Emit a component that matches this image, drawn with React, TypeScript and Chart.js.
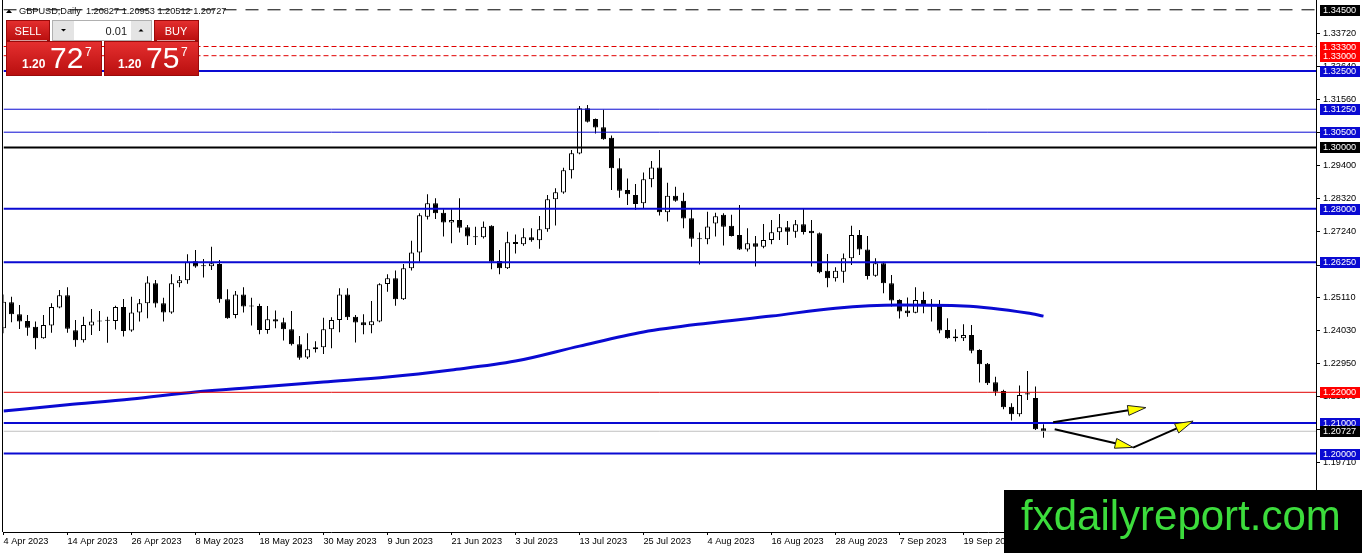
import React, { useEffect, useRef } from "react";
import { Chart, registerables } from "chart.js";

Chart.register(...registerables);

// ---------------- data ----------------
const dates = [
  "4 Apr 2023","5 Apr 2023","6 Apr 2023","7 Apr 2023","10 Apr 2023","11 Apr 2023","12 Apr 2023","13 Apr 2023","14 Apr 2023","17 Apr 2023",
  "18 Apr 2023","19 Apr 2023","20 Apr 2023","21 Apr 2023","24 Apr 2023","25 Apr 2023","26 Apr 2023","27 Apr 2023","28 Apr 2023","1 May 2023",
  "2 May 2023","3 May 2023","4 May 2023","5 May 2023","8 May 2023","9 May 2023","10 May 2023","11 May 2023","12 May 2023","15 May 2023",
  "16 May 2023","17 May 2023","18 May 2023","19 May 2023","22 May 2023","23 May 2023","24 May 2023","25 May 2023","26 May 2023","29 May 2023",
  "30 May 2023","31 May 2023","1 Jun 2023","2 Jun 2023","5 Jun 2023","6 Jun 2023","7 Jun 2023","8 Jun 2023","9 Jun 2023","12 Jun 2023",
  "13 Jun 2023","14 Jun 2023","15 Jun 2023","16 Jun 2023","19 Jun 2023","20 Jun 2023","21 Jun 2023","22 Jun 2023","23 Jun 2023","26 Jun 2023",
  "27 Jun 2023","28 Jun 2023","29 Jun 2023","30 Jun 2023","3 Jul 2023","4 Jul 2023","5 Jul 2023","6 Jul 2023","7 Jul 2023","10 Jul 2023",
  "11 Jul 2023","12 Jul 2023","13 Jul 2023","14 Jul 2023","17 Jul 2023","18 Jul 2023","19 Jul 2023","20 Jul 2023","21 Jul 2023","24 Jul 2023",
  "25 Jul 2023","26 Jul 2023","27 Jul 2023","28 Jul 2023","31 Jul 2023","1 Aug 2023","2 Aug 2023","3 Aug 2023","4 Aug 2023","7 Aug 2023",
  "8 Aug 2023","9 Aug 2023","10 Aug 2023","11 Aug 2023","14 Aug 2023","15 Aug 2023","16 Aug 2023","17 Aug 2023","18 Aug 2023","21 Aug 2023",
  "22 Aug 2023","23 Aug 2023","24 Aug 2023","25 Aug 2023","28 Aug 2023","29 Aug 2023","30 Aug 2023","31 Aug 2023","1 Sep 2023","4 Sep 2023",
  "5 Sep 2023","6 Sep 2023","7 Sep 2023","8 Sep 2023","11 Sep 2023","12 Sep 2023","13 Sep 2023","14 Sep 2023","15 Sep 2023","18 Sep 2023",
  "19 Sep 2023","20 Sep 2023","21 Sep 2023","22 Sep 2023","25 Sep 2023","26 Sep 2023","27 Sep 2023","28 Sep 2023","29 Sep 2023","2 Oct 2023",
  "3 Oct 2023",
];

const opens = [
  1.2409,1.2494,1.2455,1.2433,1.2414,1.2377,1.2418,1.2477,1.2517,1.2403,
  1.2370,1.2418,1.2435,1.2435,1.2433,1.2479,1.2402,1.2461,1.2491,1.2556,
  1.2491,1.2461,1.2556,1.2566,1.2628,1.2615,1.2612,1.2619,1.2504,1.2453,
  1.2520,1.2482,1.2482,1.2404,1.2439,1.2429,1.2406,1.2357,1.2314,1.2341,
  1.2347,1.2406,1.2436,1.2520,1.2447,1.2429,1.2419,1.2431,1.2554,1.2573,
  1.2504,1.2605,1.2657,1.2774,1.2818,1.2787,1.2755,1.2763,1.2739,1.2707,
  1.2707,1.2744,1.2629,1.2605,1.2691,1.2684,1.2707,1.2697,1.2733,1.2831,
  1.2853,1.2926,1.2980,1.3128,1.3093,1.3066,1.3032,1.2932,1.2861,1.2845,
  1.2818,1.2896,1.2935,1.2788,1.2842,1.2826,1.2769,1.2703,1.2700,1.2752,
  1.2780,1.2744,1.2714,1.2667,1.2687,1.2676,1.2698,1.2723,1.2739,1.2725,
  1.2749,1.2728,1.2720,1.2597,1.2573,1.2594,1.2638,1.2714,1.2667,1.2581,
  1.2622,1.2556,1.2502,1.2467,1.2460,1.2502,1.2485,1.2482,1.2404,1.2382,
  1.2377,1.2387,1.2338,1.2293,1.2233,1.2204,1.2153,1.2128,1.2193,1.2181,
  1.20827,
];

const highs = [
  1.2520,1.2512,1.2485,1.2453,1.2431,1.2453,1.2491,1.2534,1.2543,1.2436,
  1.2447,1.2472,1.2466,1.2447,1.2483,1.2505,1.2512,1.2505,1.2579,1.2567,
  1.2509,1.2586,1.2580,1.2651,1.2665,1.2636,1.2676,1.2632,1.2537,1.2531,
  1.2543,1.2509,1.2489,1.2482,1.2467,1.2444,1.2466,1.2384,1.2393,1.2367,
  1.2444,1.2445,1.2540,1.2540,1.2453,1.2455,1.2498,1.2556,1.2586,1.2598,
  1.2619,1.2695,1.2785,1.2847,1.2834,1.2798,1.2798,1.2834,1.2747,1.2741,
  1.2758,1.2746,1.2665,1.2725,1.2716,1.2736,1.2736,1.2776,1.2845,1.2867,
  1.2934,1.2992,1.3136,1.3139,1.3095,1.3123,1.3039,1.2965,1.2899,1.2881,
  1.2918,1.2956,1.2992,1.2885,1.2872,1.2852,1.2801,1.2722,1.2790,1.2787,
  1.2785,1.2780,1.2812,1.2736,1.2711,1.2750,1.2763,1.2783,1.2760,1.2763,
  1.2800,1.2763,1.2722,1.2652,1.2609,1.2654,1.2744,1.2730,1.2711,1.2638,
  1.2627,1.2583,1.2504,1.2510,1.2543,1.2529,1.2505,1.2502,1.2442,1.2406,
  1.2422,1.2420,1.2341,1.2296,1.2251,1.2208,1.2164,1.2222,1.2270,1.2219,
  1.20953,
];

const lows = [
  1.2393,1.2429,1.2407,1.2385,1.2341,1.2375,1.2395,1.2475,1.2395,1.2349,
  1.2363,1.2387,1.2400,1.2362,1.2405,1.2382,1.2398,1.2431,1.2442,1.2477,
  1.2431,1.2457,1.2543,1.2555,1.2607,1.2575,1.2600,1.2493,1.2440,1.2442,
  1.2461,1.2418,1.2390,1.2391,1.2409,1.2369,1.2353,1.2306,1.2309,1.2330,
  1.2325,1.2344,1.2396,1.2436,1.2363,1.2390,1.2393,1.2429,1.2529,1.2483,
  1.2502,1.2598,1.2627,1.2765,1.2766,1.2709,1.2687,1.2722,1.2681,1.2681,
  1.2703,1.2602,1.2586,1.2603,1.2654,1.2679,1.2692,1.2669,1.2725,1.2745,
  1.2849,1.2899,1.2978,1.3082,1.3046,1.3025,1.2861,1.2836,1.2812,1.2796,
  1.2801,1.2870,1.2778,1.2758,1.2823,1.2736,1.2676,1.2618,1.2684,1.2709,
  1.2680,1.2709,1.2665,1.2660,1.2611,1.2671,1.2684,1.2698,1.2681,1.2705,
  1.2716,1.2611,1.2589,1.2543,1.2562,1.2558,1.2616,1.2649,1.2569,1.2578,
  1.2524,1.2480,1.2441,1.2447,1.2458,1.2458,1.2431,1.2393,1.2375,1.2366,
  1.2368,1.2328,1.2232,1.2224,1.2189,1.2145,1.2108,1.2121,1.2175,1.2077,
  1.20512,
];

const closes = [
  1.2496,1.2455,1.2431,1.2411,1.2377,1.2420,1.2479,1.2517,1.2408,1.2370,
  1.2420,1.2431,1.2431,1.2434,1.2479,1.2400,1.2461,1.2491,1.2559,1.2490,
  1.2461,1.2556,1.2566,1.2627,1.2611,1.2612,1.2622,1.2504,1.2442,1.2520,
  1.2480,1.2480,1.2404,1.2439,1.2431,1.2406,1.2357,1.2313,1.2341,1.2347,
  1.2406,1.2436,1.2520,1.2445,1.2428,1.2419,1.2432,1.2553,1.2573,1.2504,
  1.2605,1.2657,1.2779,1.2818,1.2785,1.2755,1.2763,1.2738,1.2709,1.2708,
  1.2741,1.2627,1.2605,1.2690,1.2685,1.2707,1.2697,1.2733,1.2831,1.2854,
  1.2926,1.2981,1.3128,1.3084,1.3065,1.3027,1.2932,1.2859,1.2847,1.2815,
  1.2896,1.2935,1.2788,1.2842,1.2826,1.2768,1.2702,1.2700,1.2742,1.2775,
  1.2741,1.2711,1.2667,1.2687,1.2676,1.2698,1.2723,1.2739,1.2725,1.2749,
  1.2724,1.2720,1.2592,1.2573,1.2597,1.2638,1.2714,1.2667,1.2580,1.2622,
  1.2556,1.2500,1.2464,1.2458,1.2502,1.2485,1.2484,1.2402,1.2377,1.2377,
  1.2387,1.2336,1.2292,1.2230,1.2202,1.2151,1.2128,1.2191,1.2197,1.2079,
  1.20727,
];

// moving average (read at every 8th bar)
const maIndex = [0, 8, 16, 24, 32, 40, 48, 56, 64, 72, 80, 88, 96, 104, 112, 120, 128, 130];
const maValues = [1.2139, 1.2159, 1.2178, 1.2201, 1.2217, 1.2234, 1.2250, 1.2273, 1.2302, 1.2351, 1.2397, 1.2426, 1.2449, 1.2475, 1.2485, 1.2482, 1.2459, 1.2449];

// horizontal levels
const levelPrices = [1.345, 1.333, 1.33, 1.325, 1.3125, 1.305, 1.3, 1.28, 1.2625, 1.22, 1.21, 1.2];
const levelKinds = ["dash", "reddot", "reddot", "blue2", "blue1", "blue1", "black2", "blue2", "blue2", "red1", "blue2", "blue2"];

// price axis tick labels
const yTickValues = [1.3372, 1.3264, 1.3156, 1.3048, 1.294, 1.2832, 1.2724, 1.2616, 1.2511, 1.2403, 1.2295, 1.2187, 1.2079, 1.1971];
// date axis labels (bar indices)
const xTickIndex = [0, 8, 16, 24, 32, 40, 48, 56, 64, 72, 80, 88, 96, 104, 112, 120, 128];

// arrows (bar index, price)
const arrowFromX = [131.2, 131.4, 141.2];
const arrowFromY = [1.2102, 1.2079, 1.2019];
const arrowToX = [142.8, 141.2, 148.7];
const arrowToY = [1.2150, 1.2020, 1.2106];

const symbolTitle = "GBPUSD,Daily";
const bidPrice = 1.20727;
const askPrice = 1.20757;
const lotSize = "0.01";
const watermark = "fxdailyreport.com";

// ---------------- layout / style ----------------
const W = 1362;
const H = 553;
const AXIS_W = 46;
const AXIS_H = 21;
const X_MIN = 0;
const X_MAX = 164.0625;
const Y_MIN = 1.17435;
const Y_MAX = 1.3482;
const SANS = '"Liberation Sans", Arial, sans-serif';
const SMALL = 9.2;
const BLUE = "#0a0ad2";

const LEVEL_STYLES: Record<string, { color: string; width: number; dash: number[]; box: string }> = {
  dash: { color: "#000000", width: 1, dash: [13, 9], box: "#000000" },
  reddot: { color: "#e00000", width: 1, dash: [5, 3], box: "#ff0000" },
  blue2: { color: BLUE, width: 2, dash: [], box: BLUE },
  blue1: { color: BLUE, width: 1, dash: [], box: BLUE },
  black2: { color: "#000000", width: 2, dash: [], box: "#000000" },
  red1: { color: "#e00000", width: 1, dash: [], box: "#ff0000" },
  current: { color: "#c0c0c0", width: 1, dash: [], box: "#000000" },
};

function drawArrow(ctx: CanvasRenderingContext2D, x1: number, y1: number, x2: number, y2: number) {
  const ang = Math.atan2(y2 - y1, x2 - x1);
  const len = 18;
  const half = 5;
  const bx = x2 - len * Math.cos(ang);
  const by = y2 - len * Math.sin(ang);
  ctx.strokeStyle = "#000";
  ctx.lineWidth = 2;
  ctx.beginPath();
  ctx.moveTo(x1, y1);
  ctx.lineTo(bx + 2 * Math.cos(ang), by + 2 * Math.sin(ang));
  ctx.stroke();
  ctx.beginPath();
  ctx.moveTo(x2, y2);
  ctx.lineTo(bx + half * Math.sin(ang), by - half * Math.cos(ang));
  ctx.lineTo(bx - half * Math.sin(ang), by + half * Math.cos(ang));
  ctx.closePath();
  ctx.fillStyle = "#ffff00";
  ctx.fill();
  ctx.lineWidth = 1;
  ctx.strokeStyle = "#202020";
  ctx.stroke();
}

function redGrad(ctx: CanvasRenderingContext2D, y0: number, y1: number) {
  const g = ctx.createLinearGradient(0, y0, 0, y1);
  g.addColorStop(0, "#e63030");
  g.addColorStop(1, "#b80e0e");
  return g;
}

const overlayPlugin = {
  id: "mtOverlay",
  afterDatasetsDraw(chart: any) {
    const { ctx, chartArea, scales } = chart;
    const x = scales.x;
    const y = scales.y;
    ctx.save();
    ctx.beginPath();
    ctx.rect(chartArea.left, chartArea.top, chartArea.right - chartArea.left, chartArea.bottom - chartArea.top);
    ctx.clip();
    for (let k = 0; k < arrowFromX.length; k++) {
      drawArrow(
        ctx,
        x.getPixelForValue(arrowFromX[k]),
        y.getPixelForValue(arrowFromY[k]),
        x.getPixelForValue(arrowToX[k]),
        y.getPixelForValue(arrowToY[k])
      );
    }
    ctx.restore();
  },
  afterDraw(chart: any) {
    const { ctx, chartArea, scales } = chart;
    const y = scales.y;
    ctx.save();

    // left frame
    ctx.fillStyle = "#000";
    ctx.fillRect(Math.floor(chartArea.left) - 1, chartArea.top, 1, chartArea.bottom - chartArea.top);

    // price labels on the axis
    const boxX = chartArea.right + 4;
    const drawBox = (price: number, color: string) => {
      const py = y.getPixelForValue(price);
      ctx.fillStyle = color;
      ctx.fillRect(boxX, Math.round(py) - 5, 40, 11);
      ctx.fillStyle = "#ffffff";
      ctx.font = `${SMALL}px ${SANS}`;
      ctx.textAlign = "left";
      ctx.textBaseline = "middle";
      ctx.fillText(price.toFixed(5), boxX + 3, Math.round(py) + 0.5);
    };
    levelPrices.forEach((p, k) => drawBox(p, LEVEL_STYLES[levelKinds[k]].box));
    drawBox(closes[closes.length - 1], LEVEL_STYLES.current.box);

    // header
    ctx.fillStyle = "#000";
    ctx.beginPath();
    ctx.moveTo(6, 13);
    ctx.lineTo(9, 9.5);
    ctx.lineTo(12, 13);
    ctx.closePath();
    ctx.fill();
    const last = opens.length - 1;
    const header = `${symbolTitle}  ${opens[last].toFixed(5)} ${highs[last].toFixed(5)} ${lows[last].toFixed(5)} ${closes[last].toFixed(5)}`;
    ctx.font = `${SMALL}px ${SANS}`;
    ctx.textAlign = "left";
    ctx.textBaseline = "alphabetic";
    ctx.fillStyle = "#111";
    ctx.fillText(header, 19, 14);

    // trade panel
    ctx.fillStyle = redGrad(ctx, 20, 41);
    ctx.fillRect(6, 20, 44, 21);
    ctx.fillRect(154, 20, 45, 21);
    ctx.fillStyle = redGrad(ctx, 41, 76);
    ctx.fillRect(6, 41, 96, 35);
    ctx.fillRect(104, 41, 95, 35);
    ctx.strokeStyle = "#9a0a0a";
    ctx.lineWidth = 1;
    ctx.strokeRect(6.5, 20.5, 43, 20);
    ctx.strokeRect(154.5, 20.5, 44, 20);
    ctx.strokeRect(6.5, 41.5, 95, 34);
    ctx.strokeRect(104.5, 41.5, 94, 34);
    ctx.fillStyle = "rgba(255,255,255,0.6)";
    ctx.fillRect(10, 40, 37, 1);
    ctx.fillRect(157, 40, 38, 1);

    ctx.fillStyle = "#ffffff";
    ctx.fillRect(52, 20, 100, 21);
    ctx.strokeStyle = "#b0b0b0";
    ctx.strokeRect(52.5, 20.5, 99, 20);
    ctx.fillStyle = "#e4e4e4";
    ctx.fillRect(53, 21, 21, 19);
    ctx.fillRect(131, 21, 20, 19);
    ctx.fillStyle = "#000";
    ctx.beginPath();
    ctx.moveTo(61, 29);
    ctx.lineTo(66, 29);
    ctx.lineTo(63.5, 31.5);
    ctx.closePath();
    ctx.fill();
    ctx.beginPath();
    ctx.moveTo(138.5, 31.5);
    ctx.lineTo(143.5, 31.5);
    ctx.lineTo(141, 29);
    ctx.closePath();
    ctx.fill();
    ctx.fillStyle = "#1a1a1a";
    ctx.font = `11px ${SANS}`;
    ctx.textAlign = "right";
    ctx.fillText(lotSize, 127, 35);

    ctx.fillStyle = "#ffffff";
    ctx.textAlign = "center";
    ctx.font = `11px ${SANS}`;
    ctx.fillText("SELL", 28, 35);
    ctx.fillText("BUY", 176, 35);

    const drawPrice = (price: number, x0: number) => {
      const s = price.toFixed(5);
      ctx.textAlign = "left";
      ctx.fillStyle = "#ffffff";
      ctx.font = `bold 12px ${SANS}`;
      ctx.fillText(s.slice(0, 4), x0, 68);
      ctx.font = `30px ${SANS}`;
      ctx.fillText(s.slice(4, 6), x0 + 28, 68);
      ctx.font = `12px ${SANS}`;
      ctx.fillText(s.slice(6), x0 + 63, 56);
    };
    drawPrice(bidPrice, 22);
    drawPrice(askPrice, 118);

    // watermark
    ctx.fillStyle = "#000";
    ctx.fillRect(1004, 490, W - 1004, H - 490);
    ctx.fillStyle = "#3cdc3c";
    ctx.font = `42px ${SANS}`;
    ctx.textAlign = "left";
    ctx.textBaseline = "alphabetic";
    ctx.fillText(watermark, 1021, 530);

    ctx.restore();
  },
};

function buildConfig(): any {
  const idx = closes.map((_, i) => i);
  const bodyData = idx.map((i) => ({ x: i, y: [opens[i], closes[i]] }));
  const wickData = idx.map((i) => ({ x: i, y: [lows[i], highs[i]] }));
  const bodyColors = idx.map((i) => (closes[i] >= opens[i] ? "#ffffff" : "#000000"));

  const levelSets = levelPrices.map((p, k) => {
    const st = LEVEL_STYLES[levelKinds[k]];
    return {
      type: "line",
      data: [
        { x: X_MIN, y: p },
        { x: X_MAX, y: p },
      ],
      borderColor: st.color,
      borderWidth: st.width,
      borderDash: st.dash,
      pointRadius: 0,
      fill: false,
      order: 0,
    };
  });
  const lastClose = closes[closes.length - 1];
  const currentSet = {
    type: "line",
    data: [
      { x: X_MIN, y: lastClose },
      { x: X_MAX, y: lastClose },
    ],
    borderColor: LEVEL_STYLES.current.color,
    borderWidth: LEVEL_STYLES.current.width,
    pointRadius: 0,
    fill: false,
    order: 0,
  };
  const maSet = {
    type: "line",
    data: maIndex.map((i, k) => ({ x: i, y: maValues[k] })),
    borderColor: BLUE,
    borderWidth: 3,
    pointRadius: 0,
    fill: false,
    cubicInterpolationMode: "monotone",
    order: 0,
  };

  return {
    type: "bar",
    data: {
      datasets: [
        currentSet,
        ...levelSets,
        maSet,
        {
          type: "bar",
          data: bodyData,
          backgroundColor: bodyColors,
          borderColor: "#000000",
          borderWidth: 1,
          borderSkipped: false,
          inflateAmount: 0,
          barThickness: 5,
          minBarLength: 1,
          grouped: false,
          order: 1,
        },
        {
          type: "bar",
          data: wickData,
          backgroundColor: "#000000",
          borderWidth: 0,
          inflateAmount: 0,
          barThickness: 1,
          grouped: false,
          order: 2,
        },
      ],
    },
    options: {
      animation: false,
      responsive: false,
      events: [],
      layout: { autoPadding: false, padding: { left: 3.5, top: 0, right: 0, bottom: 0 } },
      plugins: { legend: { display: false }, tooltip: { enabled: false } },
      scales: {
        x: {
          type: "linear",
          position: "bottom",
          min: X_MIN,
          max: X_MAX,
          offset: false,
          grid: { drawOnChartArea: false, drawTicks: true, tickLength: 3, color: "#000", offset: false },
          border: { display: true, color: "#000", width: 1 },
          ticks: {
            autoSkip: false,
            maxRotation: 0,
            minRotation: 0,
            align: "start",
            padding: 1,
            color: "#000",
            font: { family: SANS, size: SMALL },
            callback: (v: any) => dates[Number(v)] ?? "",
          },
          afterBuildTicks: (s: any) => {
            s.ticks = xTickIndex.map((v) => ({ value: v }));
          },
          afterFit: (s: any) => {
            s.height = AXIS_H;
            s.paddingLeft = 0;
            s.paddingRight = 0;
          },
        },
        y: {
          type: "linear",
          position: "right",
          min: Y_MIN,
          max: Y_MAX,
          grid: { drawOnChartArea: false, drawTicks: true, tickLength: 4, color: "#000" },
          border: { display: true, color: "#000", width: 1 },
          ticks: {
            autoSkip: false,
            padding: 3,
            color: "#000",
            font: { family: SANS, size: SMALL },
            callback: (v: any) => Number(v).toFixed(5),
          },
          afterBuildTicks: (s: any) => {
            s.ticks = yTickValues.map((v) => ({ value: v }));
          },
          afterFit: (s: any) => {
            s.width = AXIS_W;
            s.paddingTop = 0;
            s.paddingBottom = 0;
          },
        },
      },
    },
    plugins: [overlayPlugin],
  };
}

export default function App() {
  const ref = useRef<HTMLCanvasElement>(null);
  useEffect(() => {
    document.body.style.margin = "0";
    document.body.style.background = "#ffffff";
    const canvas = ref.current;
    if (!canvas) return;
    const chart = new Chart(canvas, buildConfig());
    return () => chart.destroy();
  }, []);
  return <canvas ref={ref} width={W} height={H} style={{ display: "block", width: W, height: H }} />;
}
